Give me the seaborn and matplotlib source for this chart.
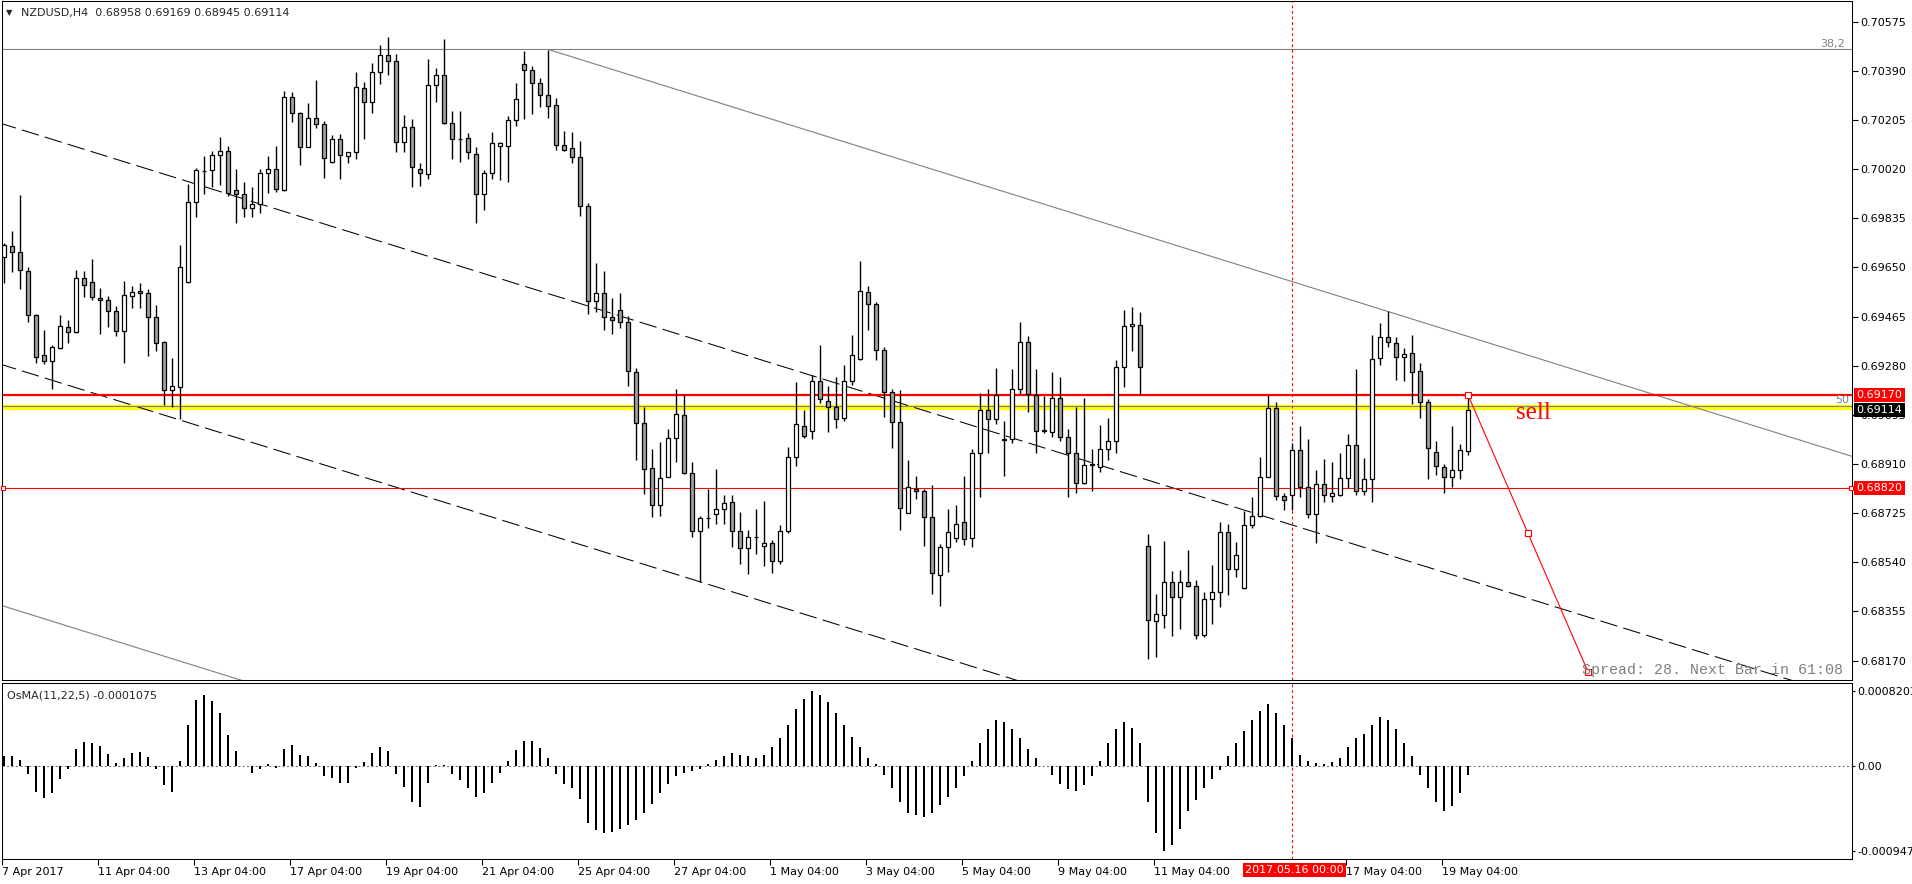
"""
NZDUSD H4 蜡烛图 + OsMA
"""
import matplotlib
matplotlib.use("Agg")
from matplotlib import pyplot as plt
import matplotlib.transforms as mtransforms
import pandas as pd
import numpy as np
import seaborn as sns

# OHLC, one entry per H4 bar (7 Apr 2017 04:00 .. 19 May 2017 16:00)
opens = [0.69688, 0.69732, 0.69707, 0.69635, 0.69470, 0.69319, 0.69297, 0.69346, 0.69425, 0.69406,
         0.69609, 0.69594, 0.69534, 0.69526, 0.69485, 0.69410, 0.69541, 0.69560, 0.69553, 0.69462,
         0.69368, 0.69187, 0.69199, 0.69596, 0.69898, 0.70014, 0.70016, 0.70072, 0.70087, 0.69943,
         0.69925, 0.69873, 0.69888, 0.70004, 0.70019, 0.69940, 0.70290, 0.70230, 0.70105, 0.70211,
         0.70189, 0.70048, 0.70132, 0.70070, 0.70083, 0.70324, 0.70273, 0.70387, 0.70448, 0.70426,
         0.70122, 0.70177, 0.70022, 0.70001, 0.70336, 0.70373, 0.70192, 0.70134, 0.70137, 0.70076,
         0.69925, 0.70005, 0.70106, 0.70106, 0.70205, 0.70414, 0.70392, 0.70343, 0.70300, 0.70261,
         0.70110, 0.70099, 0.70065, 0.69880, 0.69523, 0.69554, 0.69465, 0.69489, 0.69445, 0.69256,
         0.69063, 0.68894, 0.68756, 0.68863, 0.69007, 0.69094, 0.68878, 0.68658, 0.68706, 0.68723,
         0.68742, 0.68768, 0.68658, 0.68593, 0.68634, 0.68603, 0.68614, 0.68544, 0.68658, 0.68937,
         0.69055, 0.69034, 0.69221, 0.69149, 0.69123, 0.69085, 0.69224, 0.69307, 0.69557, 0.69514,
         0.69341, 0.69183, 0.69070, 0.68726, 0.68815, 0.68808, 0.68709, 0.68494, 0.68596, 0.68633,
         0.68690, 0.68630, 0.68953, 0.69115, 0.69081, 0.69002, 0.69006, 0.69191, 0.69371, 0.69169,
         0.69036, 0.69032, 0.69160, 0.69010, 0.68950, 0.68837, 0.68908, 0.68897, 0.68968, 0.68998,
         0.69277, 0.69429, 0.69432, 0.68600, 0.68318, 0.68341, 0.68465, 0.68408, 0.68465, 0.68450,
         0.68265, 0.68401, 0.68430, 0.68653, 0.68514, 0.68442, 0.68679, 0.68713, 0.68863, 0.69120,
         0.68789, 0.68792, 0.68962, 0.68822, 0.68721, 0.68834, 0.68789, 0.68792, 0.68856, 0.68981,
         0.68807, 0.68853, 0.69308, 0.69387, 0.69365, 0.69312, 0.69327, 0.69259, 0.69142, 0.68957,
         0.68898, 0.68860, 0.68886, 0.68958]
highs = [0.69741, 0.69787, 0.69924, 0.69653, 0.69474, 0.69415, 0.69359, 0.69471, 0.69452, 0.69640,
         0.69638, 0.69682, 0.69571, 0.69543, 0.69505, 0.69598, 0.69580, 0.69590, 0.69569, 0.69507,
         0.69372, 0.69308, 0.69735, 0.69964, 0.70026, 0.70070, 0.70090, 0.70141, 0.70107, 0.70021,
         0.69973, 0.69952, 0.70019, 0.70070, 0.70107, 0.70314, 0.70312, 0.70237, 0.70270, 0.70356,
         0.70201, 0.70149, 0.70152, 0.70086, 0.70386, 0.70349, 0.70418, 0.70487, 0.70517, 0.70455,
         0.70222, 0.70209, 0.70043, 0.70435, 0.70400, 0.70510, 0.70240, 0.70239, 0.70155, 0.70103,
         0.70017, 0.70158, 0.70122, 0.70220, 0.70343, 0.70465, 0.70410, 0.70363, 0.70469, 0.70288,
         0.70163, 0.70158, 0.70127, 0.69892, 0.69668, 0.69638, 0.69535, 0.69552, 0.69469, 0.69271,
         0.69124, 0.68966, 0.68993, 0.69041, 0.69191, 0.69175, 0.68918, 0.68716, 0.68816, 0.68890,
         0.68792, 0.68792, 0.68729, 0.68662, 0.68739, 0.68770, 0.68623, 0.68680, 0.68975, 0.69217,
         0.69113, 0.69244, 0.69357, 0.69203, 0.69236, 0.69281, 0.69395, 0.69674, 0.69580, 0.69521,
         0.69349, 0.69191, 0.69188, 0.68924, 0.68864, 0.68817, 0.68830, 0.68608, 0.68740, 0.68755,
         0.68864, 0.68965, 0.69179, 0.69194, 0.69271, 0.69071, 0.69267, 0.69443, 0.69391, 0.69266,
         0.69167, 0.69255, 0.69237, 0.69041, 0.69123, 0.69157, 0.68968, 0.69056, 0.69083, 0.69303,
         0.69490, 0.69500, 0.69481, 0.68645, 0.68420, 0.68620, 0.68507, 0.68511, 0.68586, 0.68474,
         0.68427, 0.68530, 0.68691, 0.68686, 0.68617, 0.68735, 0.68785, 0.68937, 0.69171, 0.69142,
         0.68800, 0.68988, 0.69055, 0.69003, 0.68886, 0.68929, 0.68917, 0.68950, 0.69022, 0.69267,
         0.68932, 0.69395, 0.69440, 0.69485, 0.69387, 0.69346, 0.69395, 0.69289, 0.69154, 0.68996,
         0.68909, 0.69053, 0.68986, 0.69169]
lows = [0.69590, 0.69632, 0.69568, 0.69446, 0.69289, 0.69285, 0.69191, 0.69343, 0.69364, 0.69404,
        0.69540, 0.69527, 0.69398, 0.69427, 0.69393, 0.69289, 0.69496, 0.69496, 0.69318, 0.69337,
        0.69132, 0.69126, 0.69078, 0.69590, 0.69841, 0.69925, 0.69953, 0.69959, 0.69920, 0.69816,
        0.69839, 0.69839, 0.69856, 0.69932, 0.69934, 0.69938, 0.70199, 0.70037, 0.70102, 0.70174,
        0.69988, 0.70045, 0.69984, 0.70045, 0.70060, 0.70135, 0.70232, 0.70339, 0.70373, 0.70085,
        0.70083, 0.69951, 0.69955, 0.69983, 0.70273, 0.70190, 0.70057, 0.70048, 0.70059, 0.69818,
        0.69865, 0.69983, 0.69980, 0.69973, 0.70184, 0.70210, 0.70229, 0.70254, 0.70211, 0.70091,
        0.70089, 0.70044, 0.69842, 0.69476, 0.69482, 0.69413, 0.69398, 0.69421, 0.69202, 0.68926,
        0.68799, 0.68710, 0.68716, 0.68860, 0.68919, 0.68871, 0.68634, 0.68466, 0.68671, 0.68686,
        0.68686, 0.68597, 0.68532, 0.68497, 0.68573, 0.68527, 0.68498, 0.68533, 0.68651, 0.68902,
        0.69009, 0.69006, 0.69140, 0.69029, 0.69046, 0.69073, 0.69209, 0.69303, 0.69416, 0.69303,
        0.69088, 0.68971, 0.68661, 0.68724, 0.68779, 0.68601, 0.68420, 0.68377, 0.68502, 0.68616,
        0.68604, 0.68596, 0.68784, 0.68953, 0.69060, 0.68865, 0.68991, 0.69175, 0.69106, 0.68950,
        0.69025, 0.69012, 0.68997, 0.68786, 0.68801, 0.68834, 0.68809, 0.68881, 0.68927, 0.68953,
        0.69201, 0.69337, 0.69171, 0.68175, 0.68185, 0.68294, 0.68264, 0.68290, 0.68448, 0.68250,
        0.68258, 0.68307, 0.68371, 0.68416, 0.68485, 0.68440, 0.68668, 0.68710, 0.68860, 0.68775,
        0.68736, 0.68737, 0.68785, 0.68708, 0.68614, 0.68766, 0.68766, 0.68790, 0.68819, 0.68792,
        0.68792, 0.68766, 0.69282, 0.69350, 0.69225, 0.69222, 0.69135, 0.69082, 0.68853, 0.68868,
        0.68800, 0.68822, 0.68853, 0.68945]
closes = [0.69735, 0.69707, 0.69639, 0.69470, 0.69312, 0.69297, 0.69349, 0.69428, 0.69406, 0.69609,
          0.69583, 0.69538, 0.69526, 0.69485, 0.69410, 0.69545, 0.69559, 0.69553, 0.69462, 0.69364,
          0.69187, 0.69202, 0.69653, 0.69898, 0.70016, 0.70012, 0.70072, 0.70087, 0.69932, 0.69925,
          0.69873, 0.69889, 0.70004, 0.70019, 0.69944, 0.70290, 0.70230, 0.70105, 0.70211, 0.70189,
          0.70061, 0.70132, 0.70072, 0.70083, 0.70328, 0.70272, 0.70384, 0.70448, 0.70426, 0.70122,
          0.70177, 0.70027, 0.70005, 0.70336, 0.70373, 0.70192, 0.70133, 0.70135, 0.70084, 0.69925,
          0.70005, 0.70117, 0.70117, 0.70205, 0.70284, 0.70392, 0.70343, 0.70300, 0.70257, 0.70110,
          0.70091, 0.70065, 0.69880, 0.69523, 0.69554, 0.69465, 0.69452, 0.69445, 0.69260, 0.69063,
          0.68890, 0.68756, 0.68856, 0.69007, 0.69098, 0.68878, 0.68658, 0.68705, 0.68708, 0.68742,
          0.68764, 0.68658, 0.68593, 0.68634, 0.68636, 0.68614, 0.68544, 0.68658, 0.68937, 0.69059,
          0.69017, 0.69221, 0.69153, 0.69123, 0.69081, 0.69224, 0.69319, 0.69561, 0.69514, 0.69341,
          0.69182, 0.69070, 0.68746, 0.68822, 0.68808, 0.68709, 0.68498, 0.68596, 0.68655, 0.68686,
          0.68627, 0.68953, 0.69115, 0.69081, 0.69169, 0.69004, 0.69191, 0.69371, 0.69173, 0.69036,
          0.69038, 0.69160, 0.69010, 0.68950, 0.68837, 0.68908, 0.68911, 0.68968, 0.68998, 0.69277,
          0.69429, 0.69436, 0.69277, 0.68322, 0.68344, 0.68465, 0.68408, 0.68465, 0.68450, 0.68265,
          0.68401, 0.68430, 0.68653, 0.68514, 0.68566, 0.68679, 0.68713, 0.68863, 0.69120, 0.68789,
          0.68773, 0.68962, 0.68822, 0.68721, 0.68834, 0.68792, 0.68800, 0.68856, 0.68981, 0.68807,
          0.68853, 0.69304, 0.69387, 0.69368, 0.69312, 0.69323, 0.69255, 0.69142, 0.68969, 0.68902,
          0.68860, 0.68886, 0.68962, 0.69114]

# OsMA(11,22,5) histogram
osma = [0.000105, 0.000105, 0.000061, -0.000098, -0.000289, -0.000363, -0.000308, -0.000153, -0.000042, 0.000182,
        0.000260, 0.000252, 0.000215, 0.000127, 0.000024, 0.000079, 0.000134, 0.000153, 0.000090, -0.000035,
        -0.000215, -0.000289, 0.000050, 0.000448, 0.000724, 0.000779, 0.000713, 0.000584, 0.000337, 0.000164,
        -0.000003, -0.000087, -0.000035, 0.000013, -0.000024, 0.000182, 0.000227, 0.000116, 0.000105, 0.000024,
        -0.000116, -0.000142, -0.000197, -0.000197, -0.000024, 0.000042, 0.000142, 0.000201, 0.000160, -0.000098,
        -0.000234, -0.000400, -0.000462, -0.000197, 0.000006, 0.000009, -0.000098, -0.000160, -0.000252, -0.000344,
        -0.000308, -0.000197, -0.000087, 0.000050, 0.000171, 0.000274, 0.000274, 0.000190, 0.000079, -0.000094,
        -0.000204, -0.000252, -0.000374, -0.000639, -0.000713, -0.000750, -0.000740, -0.000700, -0.000660, -0.000600,
        -0.000520, -0.000420, -0.000300, -0.000200, -0.000120, -0.000080, -0.000060, -0.000040, 0.000020, 0.000060,
        0.000100, 0.000140, 0.000120, 0.000100, 0.000080, 0.000120, 0.000200, 0.000300, 0.000450, 0.000620,
        0.000740, 0.000820, 0.000780, 0.000700, 0.000580, 0.000450, 0.000320, 0.000200, 0.000080, 0.000020,
        -0.000100, -0.000250, -0.000400, -0.000520, -0.000550, -0.000570, -0.000520, -0.000440, -0.000350, -0.000250,
        -0.000120, 0.000050, 0.000250, 0.000400, 0.000500, 0.000480, 0.000400, 0.000300, 0.000180, 0.000080,
        0.000000, -0.000100, -0.000200, -0.000260, -0.000280, -0.000220, -0.000120, 0.000050, 0.000250, 0.000400,
        0.000480, 0.000420, 0.000250, -0.000400, -0.000750, -0.000947, -0.000880, -0.000700, -0.000500, -0.000380,
        -0.000250, -0.000150, -0.000050, 0.000100, 0.000250, 0.000380, 0.000500, 0.000600, 0.000680, 0.000580,
        0.000450, 0.000300, 0.000120, 0.000050, 0.000030, 0.000020, 0.000040, 0.000080, 0.000200, 0.000300,
        0.000350, 0.000450, 0.000540, 0.000500, 0.000400, 0.000250, 0.000100, -0.000100, -0.000250, -0.000400,
        -0.000500, -0.000450, -0.000300, -0.0001075]

price_ticks = [0.70575, 0.70390, 0.70205, 0.70020, 0.69835, 0.69650, 0.69465,
               0.69280, 0.69095, 0.68910, 0.68725, 0.68540, 0.68355, 0.68170]
date_bars = [0, 12, 24, 36, 48, 60, 72, 84, 96, 108, 120, 132, 144, 168, 180]
date_labels = ['7 Apr 2017', '11 Apr 04:00', '13 Apr 04:00', '17 Apr 04:00', '19 Apr 04:00',
               '21 Apr 04:00', '25 Apr 04:00', '27 Apr 04:00', '1 May 04:00', '3 May 04:00',
               '5 May 04:00', '9 May 04:00', '11 May 04:00', '17 May 04:00', '19 May 04:00']

# objects on the chart
fibo_382 = 0.70471
fibo_50 = 0.69129
yellow_level = 0.69126
red_level_hi = 0.69170
red_level_lo = 0.68820
bid_price = 0.69114
trend_bars, trend_prices = [68, 231], [0.70471, 0.68939]
trend2_bars, trend2_prices = [-1, 40], [0.68384, 0.67999]
dash_up_bars, dash_up_prices = [-1, 231], [0.70198, 0.68025]
dash_lo_bars, dash_lo_prices = [-1, 231], [0.69291, 0.67118]
sell_bars, sell_prices = [183, 190.5, 198], [0.69170, 0.68649, 0.68128]
vline_bar = 161

sns.set_style("white")
plt.rcParams['font.family'] = ['DejaVu Sans']
plt.rcParams['axes.unicode_minus'] = False

df = pd.DataFrame({'open': opens, 'high': highs, 'low': lows, 'close': closes, 'osma': osma})
df['bar'] = np.arange(len(df))

W, H = 1912, 884
fig = plt.figure(figsize=(W / 100, H / 100), dpi=100)
ax = fig.add_axes([2 / W, 1 - 680 / H, 1850 / W, 679 / H])
ax2 = fig.add_axes([2 / W, 1 - 859 / H, 1850 / W, 176 / H])

# --- chart objects (behind candles)
ax.axhline(fibo_382, color='#808080', lw=0.8, zorder=1)
ax.axhline(yellow_level, color='#ffff00', lw=3.8, zorder=1)
ax.axhline(fibo_50, color='#808080', lw=0.8, zorder=1.5)
ax.axhline(red_level_hi, color='red', lw=1.6, zorder=1.5)
ax.axhline(red_level_lo, color='red', lw=0.8, zorder=1.5)
ax.plot([-0.1, 230.9], [red_level_lo, red_level_lo], ls='none', marker='s', ms=3.5,
        mfc='white', mec='red', mew=0.8, clip_on=False, zorder=6)
ax.plot(trend_bars, trend_prices, color='#808080', lw=0.8, zorder=1)
ax.plot(trend2_bars, trend2_prices, color='#808080', lw=0.8, zorder=1)
ax.plot(dash_up_bars, dash_up_prices, color='black', lw=0.75, ls=(0, (17, 6)), zorder=1)
ax.plot(dash_lo_bars, dash_lo_prices, color='black', lw=0.75, ls=(0, (17, 6)), zorder=1)
ax.axvline(vline_bar, color='red', lw=0.8, ls=(0, (2.5, 2.5)), zorder=1)
ax2.axvline(vline_bar, color='red', lw=0.8, ls=(0, (2.5, 2.5)), zorder=1)

# --- candles
up = df['close'] >= df['open']
ax.vlines(df['bar'], df['low'], df['high'], color='black', lw=1.0, zorder=3)
body_lo = df[['open', 'close']].min(axis=1)
body_h = (df['close'] - df['open']).abs().clip(lower=0.000006)
ax.bar(df['bar'], body_h, bottom=body_lo, width=0.6,
       color=np.where(up, 'white', '#a0a0a0'), edgecolor='black', linewidth=0.9, zorder=4)

# sell projection
ax.plot(sell_bars, sell_prices, color='red', lw=0.8, marker='s', ms=4,
        mfc='white', mec='red', mew=0.8, zorder=6)
ax.text(191.2, 0.69078, 'sell', color='red', fontsize=18, family='Liberation Serif',
        ha='center', va='baseline', zorder=7)
ax.text(0.8539, 0.0147, 'Spread: 28. Next Bar in 61:08', transform=ax.transAxes,
        color='#808080', fontsize=10.8, family='Liberation Mono', va='center', ha='left', zorder=7)
ax.text(230.1, fibo_382 + 0.00003, '38,2', color='#808080', fontsize=8, ha='right', va='bottom')
ax.text(230.6, fibo_50 + 0.00003, '50', color='#808080', fontsize=8, ha='right', va='bottom')

ax.set_xlim(-0.25, 231)
ax.set_ylim(0.68097, 0.70653)
ax.yaxis.tick_right()
ax.set_yticks(price_ticks)
ax.set_yticklabels([f'{p:.5f}' for p in price_ticks])
ax.tick_params(axis='y', length=4, width=0.8, labelsize=8, pad=2, colors='black', right=True)
ax.set_xticks([])

# price labels on the right axis
blend = mtransforms.blended_transform_factory(ax.transAxes, ax.transData)
for price, face in [(red_level_hi, 'red'), (bid_price, 'black'), (red_level_lo, 'red')]:
    ax.text(1.0024, price, f'{price:.5f}', transform=blend, color='white', fontsize=8,
            va='center', ha='left', clip_on=False, zorder=10,
            bbox=dict(facecolor=face, edgecolor='none', pad=1.6))

# --- OsMA histogram
sns.barplot(data=df, x='bar', y='osma', native_scale=True, color='black', saturation=1,
            width=0.35, linewidth=0, errorbar=None, ax=ax2, zorder=3)
ax2.axhline(0, color='#808080', lw=0.8, ls=(0, (2, 2)), zorder=2)
ax2.set_xlim(-0.25, 231)
ax2.set_ylim(-0.001033, 0.000912)
ax2.set_xlabel('')
ax2.set_ylabel('')
ax2.yaxis.tick_right()
ax2.set_yticks([0.0008203, 0.0, -0.000947])
ax2.set_yticklabels(['0.0008203', '0.00', '-0.000947'])
ax2.tick_params(axis='y', length=2, labelsize=8, pad=2, colors='black', right=True)
ax2.set_xticks([b - 0.25 for b in date_bars])
ax2.set_xticklabels(date_labels, ha='left')
ax2.tick_params(axis='x', length=4, width=0.8, labelsize=8, pad=2, colors='black', bottom=True)
ax2.text(0.0027, 0.93, 'OsMA(11,22,5) -0.0001075', transform=ax2.transAxes, fontsize=8, va='center')

blend2 = mtransforms.blended_transform_factory(ax2.transData, ax2.transAxes)
ax2.text(161.3, -0.062, '2017.05.16 00:00', transform=blend2, color='white', fontsize=8,
         ha='center', va='center', clip_on=False, zorder=10,
         bbox=dict(facecolor='red', edgecolor='none', pad=1.6))

for a in (ax, ax2):
    for s in a.spines.values():
        s.set_color('black')
        s.set_linewidth(0.75)

# header
fig.text(6 / W, 1 - 13 / H, '▼', fontsize=6, va='center')
fig.text(21 / W, 1 - 13 / H, 'NZDUSD,H4  0.68958 0.69169 0.68945 0.69114', fontsize=8, va='center')

fig.savefig('out.png', dpi=100, facecolor='white')
